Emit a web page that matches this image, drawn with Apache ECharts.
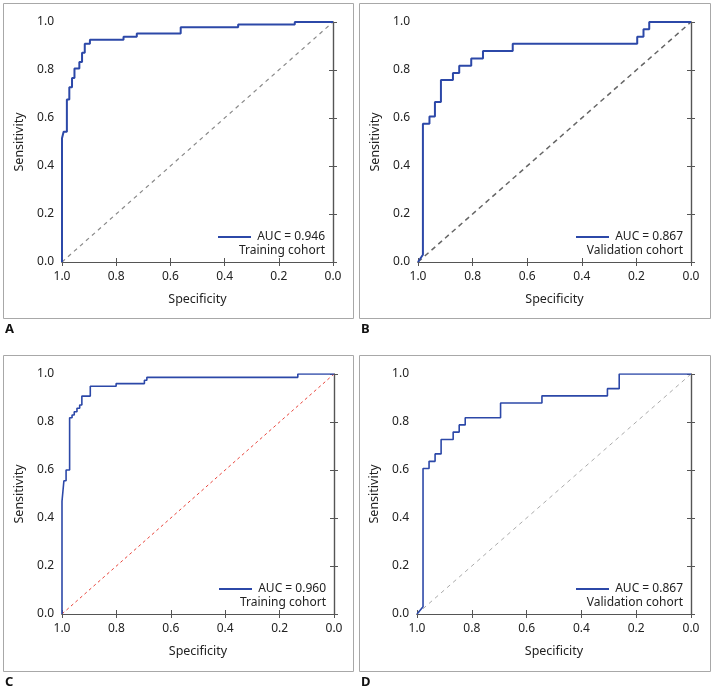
<!DOCTYPE html>
<html><head><meta charset="utf-8">
<script src="https://cdn.jsdelivr.net/npm/echarts@6/dist/echarts.min.js"></script>
<style>html,body{margin:0;padding:0;background:#fff}#c{width:713px;height:690px}</style>
</head><body><div id="c"></div>
<script>
// ---- data (specificity, sensitivity at the top of each vertical rise) ----
const specA = [1.0, 0.994, 0.982, 0.973, 0.963, 0.954, 0.936, 0.926, 0.916, 0.897, 0.773, 0.724, 0.562, 0.350, 0.141, 0.0];
const sensA = [0.516, 0.543, 0.677, 0.728, 0.767, 0.806, 0.833, 0.872, 0.909, 0.926, 0.939, 0.952, 0.978, 0.990, 1.0, 1.0];

const specB = [0.982, 0.982, 0.958, 0.938, 0.916, 0.872, 0.849, 0.805, 0.762, 0.653, 0.197, 0.174, 0.153, 0.0];
const sensB = [0.030, 0.576, 0.606, 0.667, 0.758, 0.788, 0.818, 0.848, 0.879, 0.909, 0.939, 0.970, 1.0, 1.0];

const specC = [1.0, 0.993, 0.985, 0.972, 0.963, 0.955, 0.945, 0.935, 0.927, 0.896, 0.801, 0.697, 0.688, 0.133, 0.0];
const sensC = [0.47, 0.555, 0.60, 0.818, 0.829, 0.843, 0.857, 0.871, 0.908, 0.949, 0.960, 0.974, 0.986, 1.0, 1.0];

const specD = [0.978, 0.978, 0.956, 0.934, 0.912, 0.868, 0.846, 0.824, 0.695, 0.544, 0.305, 0.262, 0.0];
const sensD = [0.030, 0.606, 0.636, 0.667, 0.727, 0.758, 0.788, 0.818, 0.879, 0.909, 0.939, 1.0, 1.0];

const aucLabels = ['AUC = 0.946', 'AUC = 0.867', 'AUC = 0.960', 'AUC = 0.867'];
const cohortLabels = ['Training cohort', 'Validation cohort', 'Training cohort', 'Validation cohort'];
const panelLetters = ['A', 'B', 'C', 'D'];
const xAxisTitle = 'Specificity';
const yAxisTitle = 'Sensitivity';

// ---- layout / style ----
const grids = [
  {left: 62, top: 22, width: 271, height: 240},
  {left: 418, top: 22, width: 273, height: 240},
  {left: 62, top: 374, width: 272, height: 240},
  {left: 417, top: 374, width: 274, height: 240}
];
const boxes = [
  {x: 3, y: 3, w: 350, h: 315},
  {x: 359, y: 3, w: 351, h: 315},
  {x: 3, y: 355, w: 350, h: 316},
  {x: 359, y: 355, w: 351, h: 316}
];
const diagStyles = [
  {color: '#8a8a8a', width: 1.2, type: [4, 4]},
  {color: '#666666', width: 1.5, type: [5, 4]},
  {color: '#e8453c', width: 1, type: [3, 3]},
  {color: '#aaaaaa', width: 1, type: [4, 4]}
];
const curveWidths = [2, 2, 1.6, 1.6];
const BLUE = '#2c48a8';
const AXIS = '#555';
const FONT = 'Noto Sans';

function buildCurve(spec, sens) {
  const pts = [[1, 0]];
  for (let i = 0; i < spec.length; i++) {
    if (i > 0) pts.push([spec[i], sens[i - 1]]);
    pts.push([spec[i], sens[i]]);
  }
  return pts;
}
const curves = [buildCurve(specA, sensA), buildCurve(specB, sensB), buildCurve(specC, sensC), buildCurve(specD, sensD)];

const xAxes = [], yAxes = [], series = [], graphics = [];
grids.forEach((g, i) => {
  const common = {gridIndex: i, type: 'value', min: 0, max: 1, interval: 0.2,
    splitLine: {show: false},
    axisLine: {show: true, lineStyle: {color: AXIS, width: 1.2}},
    axisTick: {show: true, inside: true, length: 4, lineStyle: {color: AXIS, width: 1}}};
  xAxes.push(Object.assign({}, common, {position: 'bottom', inverse: true,
    name: xAxisTitle, nameLocation: 'middle', nameGap: 31,
    nameTextStyle: {fontFamily: FONT, fontSize: 12.5, color: '#222'},
    axisLabel: {show: true, margin: 9, fontFamily: FONT, fontSize: 12, color: '#222',
      formatter: v => v.toFixed(1)}}));
  xAxes.push(Object.assign({}, common, {position: 'top', inverse: true, axisLabel: {show: false}}));
  yAxes.push(Object.assign({}, common, {position: 'left',
    name: yAxisTitle, nameLocation: 'middle', nameGap: 36,
    nameTextStyle: {fontFamily: FONT, fontSize: 12.5, color: '#222'},
    axisLabel: {show: true, margin: 8, fontFamily: FONT, fontSize: 12, color: '#222',
      formatter: v => v.toFixed(1)}}));
  yAxes.push(Object.assign({}, common, {position: 'right', axisLabel: {show: false}}));

  series.push({type: 'line', xAxisIndex: 2 * i, yAxisIndex: 2 * i, data: [[1, 0], [0, 1]],
    symbol: 'none', silent: true, lineStyle: diagStyles[i], z: 2});
  series.push({type: 'line', xAxisIndex: 2 * i, yAxisIndex: 2 * i, data: curves[i],
    symbol: 'none', silent: true, lineStyle: {color: BLUE, width: curveWidths[i]}, z: 3});

  const b = boxes[i];
  graphics.push({type: 'rect', shape: {x: b.x + 0.5, y: b.y + 0.5, width: b.w, height: b.h},
    style: {fill: 'none', stroke: '#a8a8a8', lineWidth: 1}, silent: true});
  graphics.push({type: 'text', x: b.x + 2, y: b.y + b.h + 5,
    style: {text: panelLetters[i], font: 'bold 13px "Noto Sans"', fill: '#111', textVerticalAlign: 'top'}});

  const right = g.left + g.width - 8;
  const y1 = g.top + g.height - 25;
  const y2 = y1 + 13.5;
  graphics.push({type: 'line', shape: {x1: right - 107, y1: y1, x2: right - 74, y2: y1},
    style: {stroke: BLUE, lineWidth: 2}, silent: true});
  graphics.push({type: 'text', x: right, y: y1,
    style: {text: aucLabels[i], font: '12px "Noto Sans"', fill: '#222', textAlign: 'right', textVerticalAlign: 'middle'}});
  graphics.push({type: 'text', x: right, y: y2,
    style: {text: cohortLabels[i], font: '12px "Noto Sans"', fill: '#222', textAlign: 'right', textVerticalAlign: 'middle'}});
});

const chart = echarts.init(document.getElementById('c'), null, {renderer: 'canvas'});
chart.setOption({
  animation: false,
  backgroundColor: '#fff',
  grid: grids.map(g => Object.assign({}, g, {containLabel: false})),
  xAxis: xAxes,
  yAxis: yAxes,
  series: series,
  graphic: graphics
});
</script></body></html>
